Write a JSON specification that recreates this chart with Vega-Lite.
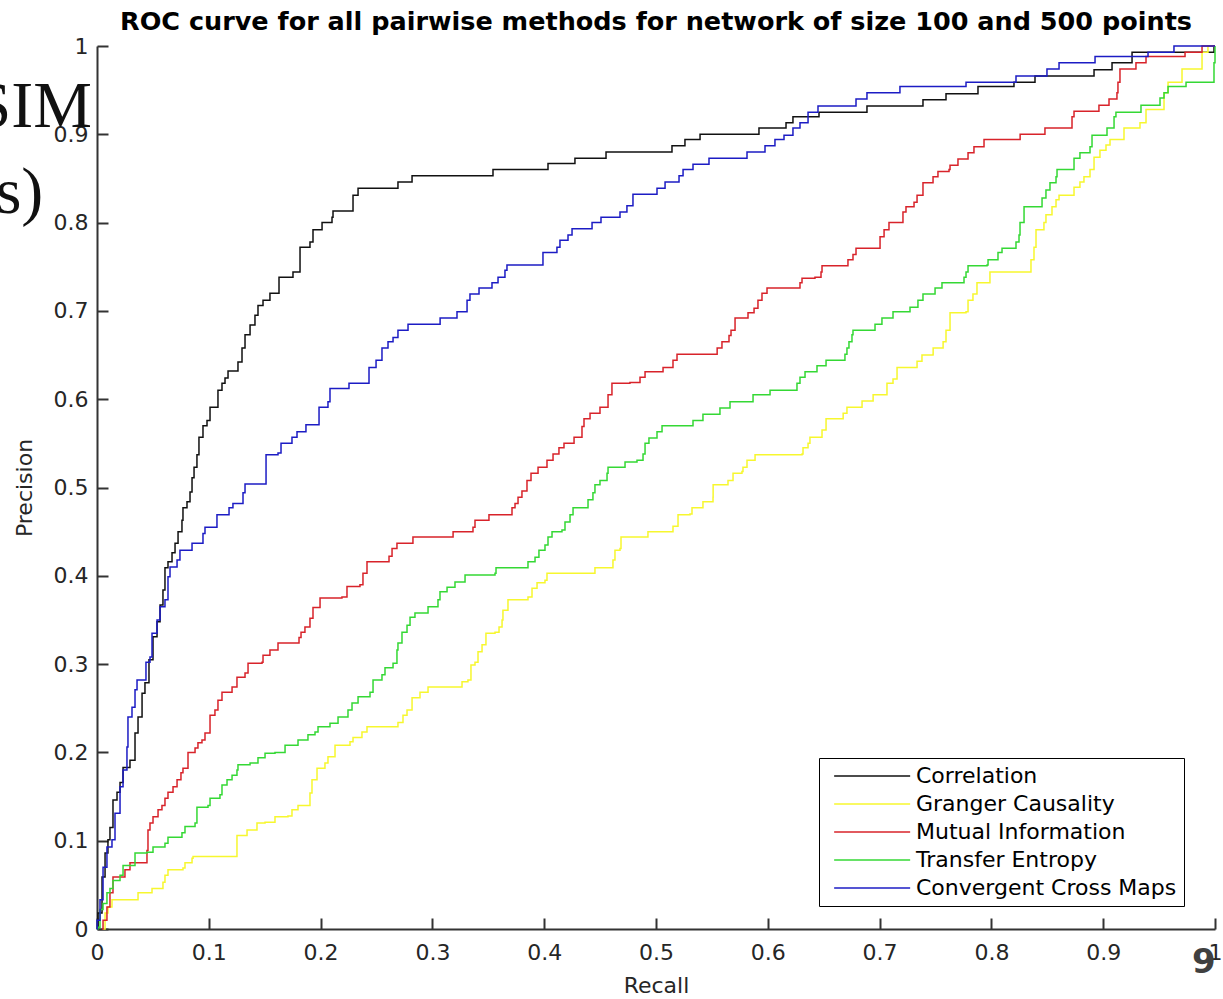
{
"$schema": "https://vega.github.io/schema/vega-lite/v6.json",
"autosize": "none",
"width": 1118,
"height": 883,
"padding": {"left": 97, "top": 46, "right": 8, "bottom": 70},
"background": "white",
"config": {"view": {"stroke": null}, "font": "DejaVu Sans"},
"title": {"text": "ROC curve for all pairwise methods for network of size 100 and 500 points", "font": "DejaVu Sans", "fontSize": 25.5, "fontWeight": "bold", "color": "#000000", "anchor": "middle", "frame": "group", "offset": 0},
"datasets": {
"roc": [
{"method":"Correlation","recall":0,"precision":0},
{"method":"Correlation","recall":0.0009,"precision":0.018},
{"method":"Correlation","recall":0.0045,"precision":0.059},
{"method":"Correlation","recall":0.0072,"precision":0.086},
{"method":"Correlation","recall":0.0098,"precision":0.101},
{"method":"Correlation","recall":0.0116,"precision":0.115},
{"method":"Correlation","recall":0.0143,"precision":0.146},
{"method":"Correlation","recall":0.0179,"precision":0.155},
{"method":"Correlation","recall":0.0206,"precision":0.166},
{"method":"Correlation","recall":0.0233,"precision":0.183},
{"method":"Correlation","recall":0.0295,"precision":0.191},
{"method":"Correlation","recall":0.034,"precision":0.222},
{"method":"Correlation","recall":0.0367,"precision":0.240},
{"method":"Correlation","recall":0.0403,"precision":0.267},
{"method":"Correlation","recall":0.0429,"precision":0.279},
{"method":"Correlation","recall":0.0465,"precision":0.305},
{"method":"Correlation","recall":0.0501,"precision":0.331},
{"method":"Correlation","recall":0.0537,"precision":0.348},
{"method":"Correlation","recall":0.0564,"precision":0.367},
{"method":"Correlation","recall":0.059,"precision":0.384},
{"method":"Correlation","recall":0.0608,"precision":0.409},
{"method":"Correlation","recall":0.0635,"precision":0.416},
{"method":"Correlation","recall":0.0671,"precision":0.426},
{"method":"Correlation","recall":0.0698,"precision":0.437},
{"method":"Correlation","recall":0.0725,"precision":0.450},
{"method":"Correlation","recall":0.076,"precision":0.463},
{"method":"Correlation","recall":0.0769,"precision":0.477},
{"method":"Correlation","recall":0.0805,"precision":0.484},
{"method":"Correlation","recall":0.0832,"precision":0.495},
{"method":"Correlation","recall":0.085,"precision":0.511},
{"method":"Correlation","recall":0.0868,"precision":0.523},
{"method":"Correlation","recall":0.0894,"precision":0.537},
{"method":"Correlation","recall":0.0912,"precision":0.557},
{"method":"Correlation","recall":0.0948,"precision":0.570},
{"method":"Correlation","recall":0.0984,"precision":0.576},
{"method":"Correlation","recall":0.1011,"precision":0.591},
{"method":"Correlation","recall":0.1055,"precision":0.591},
{"method":"Correlation","recall":0.1082,"precision":0.610},
{"method":"Correlation","recall":0.1118,"precision":0.618},
{"method":"Correlation","recall":0.1145,"precision":0.624},
{"method":"Correlation","recall":0.1172,"precision":0.632},
{"method":"Correlation","recall":0.1261,"precision":0.642},
{"method":"Correlation","recall":0.1297,"precision":0.658},
{"method":"Correlation","recall":0.1324,"precision":0.673},
{"method":"Correlation","recall":0.1369,"precision":0.684},
{"method":"Correlation","recall":0.1413,"precision":0.695},
{"method":"Correlation","recall":0.144,"precision":0.706},
{"method":"Correlation","recall":0.1485,"precision":0.712},
{"method":"Correlation","recall":0.1547,"precision":0.720},
{"method":"Correlation","recall":0.1628,"precision":0.738},
{"method":"Correlation","recall":0.1753,"precision":0.744},
{"method":"Correlation","recall":0.1816,"precision":0.772},
{"method":"Correlation","recall":0.1905,"precision":0.778},
{"method":"Correlation","recall":0.1932,"precision":0.792},
{"method":"Correlation","recall":0.2013,"precision":0.800},
{"method":"Correlation","recall":0.2102,"precision":0.806},
{"method":"Correlation","recall":0.2111,"precision":0.813},
{"method":"Correlation","recall":0.2281,"precision":0.813},
{"method":"Correlation","recall":0.229,"precision":0.831},
{"method":"Correlation","recall":0.2335,"precision":0.839},
{"method":"Correlation","recall":0.2692,"precision":0.846},
{"method":"Correlation","recall":0.2818,"precision":0.853},
{"method":"Correlation","recall":0.3542,"precision":0.860},
{"method":"Correlation","recall":0.4034,"precision":0.867},
{"method":"Correlation","recall":0.4275,"precision":0.873},
{"method":"Correlation","recall":0.4553,"precision":0.880},
{"method":"Correlation","recall":0.5143,"precision":0.887},
{"method":"Correlation","recall":0.5259,"precision":0.894},
{"method":"Correlation","recall":0.5394,"precision":0.900},
{"method":"Correlation","recall":0.5921,"precision":0.907},
{"method":"Correlation","recall":0.6163,"precision":0.913},
{"method":"Correlation","recall":0.6225,"precision":0.920},
{"method":"Correlation","recall":0.6458,"precision":0.925},
{"method":"Correlation","recall":0.6887,"precision":0.932},
{"method":"Correlation","recall":0.7388,"precision":0.939},
{"method":"Correlation","recall":0.7594,"precision":0.946},
{"method":"Correlation","recall":0.788,"precision":0.954},
{"method":"Correlation","recall":0.8202,"precision":0.959},
{"method":"Correlation","recall":0.839,"precision":0.966},
{"method":"Correlation","recall":0.8918,"precision":0.973},
{"method":"Correlation","recall":0.9079,"precision":0.981},
{"method":"Correlation","recall":0.9258,"precision":0.993},
{"method":"Correlation","recall":0.9991,"precision":1.0},
{"method":"Correlation","recall":1.0,"precision":1.0},
{"method":"Granger Causality","recall":0.0054,"precision":0},
{"method":"Granger Causality","recall":0.0072,"precision":0.018},
{"method":"Granger Causality","recall":0.0098,"precision":0.025},
{"method":"Granger Causality","recall":0.0134,"precision":0.033},
{"method":"Granger Causality","recall":0.0358,"precision":0.033},
{"method":"Granger Causality","recall":0.0367,"precision":0.041},
{"method":"Granger Causality","recall":0.0492,"precision":0.046},
{"method":"Granger Causality","recall":0.059,"precision":0.053},
{"method":"Granger Causality","recall":0.0608,"precision":0.061},
{"method":"Granger Causality","recall":0.0635,"precision":0.067},
{"method":"Granger Causality","recall":0.0769,"precision":0.069},
{"method":"Granger Causality","recall":0.0787,"precision":0.075},
{"method":"Granger Causality","recall":0.085,"precision":0.080},
{"method":"Granger Causality","recall":0.0859,"precision":0.082},
{"method":"Granger Causality","recall":0.1234,"precision":0.082},
{"method":"Granger Causality","recall":0.1252,"precision":0.106},
{"method":"Granger Causality","recall":0.1297,"precision":0.106},
{"method":"Granger Causality","recall":0.1342,"precision":0.112},
{"method":"Granger Causality","recall":0.1431,"precision":0.120},
{"method":"Granger Causality","recall":0.1503,"precision":0.121},
{"method":"Granger Causality","recall":0.1592,"precision":0.127},
{"method":"Granger Causality","recall":0.1708,"precision":0.128},
{"method":"Granger Causality","recall":0.1744,"precision":0.135},
{"method":"Granger Causality","recall":0.1798,"precision":0.140},
{"method":"Granger Causality","recall":0.1887,"precision":0.140},
{"method":"Granger Causality","recall":0.1905,"precision":0.154},
{"method":"Granger Causality","recall":0.1923,"precision":0.169},
{"method":"Granger Causality","recall":0.1968,"precision":0.182},
{"method":"Granger Causality","recall":0.2039,"precision":0.188},
{"method":"Granger Causality","recall":0.2066,"precision":0.195},
{"method":"Granger Causality","recall":0.2129,"precision":0.208},
{"method":"Granger Causality","recall":0.2263,"precision":0.212},
{"method":"Granger Causality","recall":0.229,"precision":0.217},
{"method":"Granger Causality","recall":0.237,"precision":0.223},
{"method":"Granger Causality","recall":0.2415,"precision":0.229},
{"method":"Granger Causality","recall":0.2683,"precision":0.229},
{"method":"Granger Causality","recall":0.2692,"precision":0.234},
{"method":"Granger Causality","recall":0.2737,"precision":0.242},
{"method":"Granger Causality","recall":0.2773,"precision":0.248},
{"method":"Granger Causality","recall":0.2818,"precision":0.262},
{"method":"Granger Causality","recall":0.2889,"precision":0.268},
{"method":"Granger Causality","recall":0.2961,"precision":0.274},
{"method":"Granger Causality","recall":0.3247,"precision":0.274},
{"method":"Granger Causality","recall":0.3265,"precision":0.280},
{"method":"Granger Causality","recall":0.3318,"precision":0.282},
{"method":"Granger Causality","recall":0.3345,"precision":0.299},
{"method":"Granger Causality","recall":0.3381,"precision":0.302},
{"method":"Granger Causality","recall":0.3408,"precision":0.314},
{"method":"Granger Causality","recall":0.3444,"precision":0.322},
{"method":"Granger Causality","recall":0.3479,"precision":0.335},
{"method":"Granger Causality","recall":0.356,"precision":0.336},
{"method":"Granger Causality","recall":0.3596,"precision":0.342},
{"method":"Granger Causality","recall":0.3623,"precision":0.350},
{"method":"Granger Causality","recall":0.3631,"precision":0.361},
{"method":"Granger Causality","recall":0.3676,"precision":0.373},
{"method":"Granger Causality","recall":0.3855,"precision":0.376},
{"method":"Granger Causality","recall":0.3891,"precision":0.386},
{"method":"Granger Causality","recall":0.3936,"precision":0.392},
{"method":"Granger Causality","recall":0.4007,"precision":0.395},
{"method":"Granger Causality","recall":0.4025,"precision":0.403},
{"method":"Granger Causality","recall":0.4436,"precision":0.403},
{"method":"Granger Causality","recall":0.4454,"precision":0.409},
{"method":"Granger Causality","recall":0.4606,"precision":0.409},
{"method":"Granger Causality","recall":0.4615,"precision":0.418},
{"method":"Granger Causality","recall":0.4633,"precision":0.429},
{"method":"Granger Causality","recall":0.4678,"precision":0.431},
{"method":"Granger Causality","recall":0.4687,"precision":0.444},
{"method":"Granger Causality","recall":0.492,"precision":0.444},
{"method":"Granger Causality","recall":0.4928,"precision":0.450},
{"method":"Granger Causality","recall":0.5143,"precision":0.450},
{"method":"Granger Causality","recall":0.5152,"precision":0.456},
{"method":"Granger Causality","recall":0.5197,"precision":0.469},
{"method":"Granger Causality","recall":0.5304,"precision":0.470},
{"method":"Granger Causality","recall":0.5322,"precision":0.477},
{"method":"Granger Causality","recall":0.5411,"precision":0.477},
{"method":"Granger Causality","recall":0.542,"precision":0.484},
{"method":"Granger Causality","recall":0.551,"precision":0.489},
{"method":"Granger Causality","recall":0.5511,"precision":0.503},
{"method":"Granger Causality","recall":0.5635,"precision":0.503},
{"method":"Granger Causality","recall":0.5644,"precision":0.508},
{"method":"Granger Causality","recall":0.5689,"precision":0.516},
{"method":"Granger Causality","recall":0.5769,"precision":0.518},
{"method":"Granger Causality","recall":0.5778,"precision":0.523},
{"method":"Granger Causality","recall":0.5814,"precision":0.531},
{"method":"Granger Causality","recall":0.5886,"precision":0.537},
{"method":"Granger Causality","recall":0.6306,"precision":0.538},
{"method":"Granger Causality","recall":0.6315,"precision":0.545},
{"method":"Granger Causality","recall":0.636,"precision":0.550},
{"method":"Granger Causality","recall":0.6377,"precision":0.557},
{"method":"Granger Causality","recall":0.6467,"precision":0.557},
{"method":"Granger Causality","recall":0.6485,"precision":0.565},
{"method":"Granger Causality","recall":0.6521,"precision":0.578},
{"method":"Granger Causality","recall":0.6673,"precision":0.578},
{"method":"Granger Causality","recall":0.6674,"precision":0.584},
{"method":"Granger Causality","recall":0.6708,"precision":0.591},
{"method":"Granger Causality","recall":0.6825,"precision":0.591},
{"method":"Granger Causality","recall":0.6843,"precision":0.598},
{"method":"Granger Causality","recall":0.6941,"precision":0.598},
{"method":"Granger Causality","recall":0.6942,"precision":0.605},
{"method":"Granger Causality","recall":0.7057,"precision":0.605},
{"method":"Granger Causality","recall":0.7066,"precision":0.618},
{"method":"Granger Causality","recall":0.712,"precision":0.623},
{"method":"Granger Causality","recall":0.7156,"precision":0.636},
{"method":"Granger Causality","recall":0.7326,"precision":0.636},
{"method":"Granger Causality","recall":0.7335,"precision":0.643},
{"method":"Granger Causality","recall":0.7379,"precision":0.650},
{"method":"Granger Causality","recall":0.7478,"precision":0.651},
{"method":"Granger Causality","recall":0.7479,"precision":0.658},
{"method":"Granger Causality","recall":0.7567,"precision":0.658},
{"method":"Granger Causality","recall":0.7568,"precision":0.665},
{"method":"Granger Causality","recall":0.7594,"precision":0.678},
{"method":"Granger Causality","recall":0.763,"precision":0.698},
{"method":"Granger Causality","recall":0.7773,"precision":0.699},
{"method":"Granger Causality","recall":0.7791,"precision":0.712},
{"method":"Granger Causality","recall":0.7835,"precision":0.719},
{"method":"Granger Causality","recall":0.7871,"precision":0.732},
{"method":"Granger Causality","recall":0.797,"precision":0.732},
{"method":"Granger Causality","recall":0.7987,"precision":0.744},
{"method":"Granger Causality","recall":0.8327,"precision":0.744},
{"method":"Granger Causality","recall":0.8354,"precision":0.758},
{"method":"Granger Causality","recall":0.8381,"precision":0.772},
{"method":"Granger Causality","recall":0.8399,"precision":0.792},
{"method":"Granger Causality","recall":0.847,"precision":0.800},
{"method":"Granger Causality","recall":0.8488,"precision":0.809},
{"method":"Granger Causality","recall":0.8542,"precision":0.818},
{"method":"Granger Causality","recall":0.8578,"precision":0.826},
{"method":"Granger Causality","recall":0.8605,"precision":0.831},
{"method":"Granger Causality","recall":0.8721,"precision":0.831},
{"method":"Granger Causality","recall":0.8739,"precision":0.840},
{"method":"Granger Causality","recall":0.8792,"precision":0.846},
{"method":"Granger Causality","recall":0.8828,"precision":0.852},
{"method":"Granger Causality","recall":0.8882,"precision":0.860},
{"method":"Granger Causality","recall":0.8918,"precision":0.874},
{"method":"Granger Causality","recall":0.8971,"precision":0.882},
{"method":"Granger Causality","recall":0.9025,"precision":0.888},
{"method":"Granger Causality","recall":0.9061,"precision":0.894},
{"method":"Granger Causality","recall":0.915,"precision":0.894},
{"method":"Granger Causality","recall":0.9186,"precision":0.907},
{"method":"Granger Causality","recall":0.9311,"precision":0.907},
{"method":"Granger Causality","recall":0.9329,"precision":0.913},
{"method":"Granger Causality","recall":0.9383,"precision":0.928},
{"method":"Granger Causality","recall":0.9508,"precision":0.928},
{"method":"Granger Causality","recall":0.9544,"precision":0.947},
{"method":"Granger Causality","recall":0.958,"precision":0.959},
{"method":"Granger Causality","recall":0.9687,"precision":0.959},
{"method":"Granger Causality","recall":0.9705,"precision":0.974},
{"method":"Granger Causality","recall":0.9848,"precision":0.974},
{"method":"Granger Causality","recall":0.9884,"precision":0.993},
{"method":"Granger Causality","recall":0.9937,"precision":1.0},
{"method":"Granger Causality","recall":1.0,"precision":1.0},
{"method":"Mutual Information","recall":0.0045,"precision":0},
{"method":"Mutual Information","recall":0.0054,"precision":0.010},
{"method":"Mutual Information","recall":0.0089,"precision":0.025},
{"method":"Mutual Information","recall":0.0116,"precision":0.041},
{"method":"Mutual Information","recall":0.0143,"precision":0.059},
{"method":"Mutual Information","recall":0.0233,"precision":0.059},
{"method":"Mutual Information","recall":0.025,"precision":0.067},
{"method":"Mutual Information","recall":0.0295,"precision":0.075},
{"method":"Mutual Information","recall":0.0429,"precision":0.075},
{"method":"Mutual Information","recall":0.0447,"precision":0.089},
{"method":"Mutual Information","recall":0.0456,"precision":0.112},
{"method":"Mutual Information","recall":0.0474,"precision":0.120},
{"method":"Mutual Information","recall":0.0501,"precision":0.127},
{"method":"Mutual Information","recall":0.0546,"precision":0.135},
{"method":"Mutual Information","recall":0.0581,"precision":0.140},
{"method":"Mutual Information","recall":0.0608,"precision":0.148},
{"method":"Mutual Information","recall":0.0635,"precision":0.155},
{"method":"Mutual Information","recall":0.068,"precision":0.161},
{"method":"Mutual Information","recall":0.0716,"precision":0.169},
{"method":"Mutual Information","recall":0.0751,"precision":0.177},
{"method":"Mutual Information","recall":0.0769,"precision":0.182},
{"method":"Mutual Information","recall":0.0814,"precision":0.200},
{"method":"Mutual Information","recall":0.0877,"precision":0.205},
{"method":"Mutual Information","recall":0.0903,"precision":0.211},
{"method":"Mutual Information","recall":0.0939,"precision":0.214},
{"method":"Mutual Information","recall":0.0966,"precision":0.222},
{"method":"Mutual Information","recall":0.1011,"precision":0.242},
{"method":"Mutual Information","recall":0.1055,"precision":0.248},
{"method":"Mutual Information","recall":0.1082,"precision":0.259},
{"method":"Mutual Information","recall":0.1118,"precision":0.268},
{"method":"Mutual Information","recall":0.1208,"precision":0.274},
{"method":"Mutual Information","recall":0.1252,"precision":0.285},
{"method":"Mutual Information","recall":0.1324,"precision":0.290},
{"method":"Mutual Information","recall":0.1351,"precision":0.301},
{"method":"Mutual Information","recall":0.1476,"precision":0.302},
{"method":"Mutual Information","recall":0.1485,"precision":0.310},
{"method":"Mutual Information","recall":0.1547,"precision":0.316},
{"method":"Mutual Information","recall":0.1619,"precision":0.324},
{"method":"Mutual Information","recall":0.1807,"precision":0.330},
{"method":"Mutual Information","recall":0.1825,"precision":0.336},
{"method":"Mutual Information","recall":0.186,"precision":0.342},
{"method":"Mutual Information","recall":0.1905,"precision":0.352},
{"method":"Mutual Information","recall":0.1932,"precision":0.364},
{"method":"Mutual Information","recall":0.1995,"precision":0.375},
{"method":"Mutual Information","recall":0.2191,"precision":0.376},
{"method":"Mutual Information","recall":0.2236,"precision":0.388},
{"method":"Mutual Information","recall":0.2352,"precision":0.390},
{"method":"Mutual Information","recall":0.2379,"precision":0.403},
{"method":"Mutual Information","recall":0.2415,"precision":0.416},
{"method":"Mutual Information","recall":0.2603,"precision":0.416},
{"method":"Mutual Information","recall":0.2612,"precision":0.422},
{"method":"Mutual Information","recall":0.2639,"precision":0.431},
{"method":"Mutual Information","recall":0.2683,"precision":0.437},
{"method":"Mutual Information","recall":0.2826,"precision":0.444},
{"method":"Mutual Information","recall":0.3184,"precision":0.444},
{"method":"Mutual Information","recall":0.3185,"precision":0.450},
{"method":"Mutual Information","recall":0.3363,"precision":0.455},
{"method":"Mutual Information","recall":0.3381,"precision":0.463},
{"method":"Mutual Information","recall":0.3506,"precision":0.469},
{"method":"Mutual Information","recall":0.3694,"precision":0.469},
{"method":"Mutual Information","recall":0.3712,"precision":0.477},
{"method":"Mutual Information","recall":0.3739,"precision":0.482},
{"method":"Mutual Information","recall":0.3766,"precision":0.489},
{"method":"Mutual Information","recall":0.3801,"precision":0.496},
{"method":"Mutual Information","recall":0.3846,"precision":0.508},
{"method":"Mutual Information","recall":0.3882,"precision":0.516},
{"method":"Mutual Information","recall":0.3945,"precision":0.523},
{"method":"Mutual Information","recall":0.4025,"precision":0.531},
{"method":"Mutual Information","recall":0.4079,"precision":0.538},
{"method":"Mutual Information","recall":0.4132,"precision":0.545},
{"method":"Mutual Information","recall":0.4177,"precision":0.550},
{"method":"Mutual Information","recall":0.4267,"precision":0.557},
{"method":"Mutual Information","recall":0.4338,"precision":0.569},
{"method":"Mutual Information","recall":0.4356,"precision":0.578},
{"method":"Mutual Information","recall":0.441,"precision":0.584},
{"method":"Mutual Information","recall":0.4499,"precision":0.591},
{"method":"Mutual Information","recall":0.4571,"precision":0.605},
{"method":"Mutual Information","recall":0.4606,"precision":0.618},
{"method":"Mutual Information","recall":0.4767,"precision":0.619},
{"method":"Mutual Information","recall":0.4857,"precision":0.625},
{"method":"Mutual Information","recall":0.4902,"precision":0.631},
{"method":"Mutual Information","recall":0.5063,"precision":0.636},
{"method":"Mutual Information","recall":0.5152,"precision":0.644},
{"method":"Mutual Information","recall":0.5188,"precision":0.651},
{"method":"Mutual Information","recall":0.5546,"precision":0.651},
{"method":"Mutual Information","recall":0.5547,"precision":0.658},
{"method":"Mutual Information","recall":0.559,"precision":0.665},
{"method":"Mutual Information","recall":0.5644,"precision":0.665},
{"method":"Mutual Information","recall":0.5653,"precision":0.672},
{"method":"Mutual Information","recall":0.5671,"precision":0.678},
{"method":"Mutual Information","recall":0.5707,"precision":0.692},
{"method":"Mutual Information","recall":0.5814,"precision":0.692},
{"method":"Mutual Information","recall":0.5823,"precision":0.698},
{"method":"Mutual Information","recall":0.5877,"precision":0.703},
{"method":"Mutual Information","recall":0.5912,"precision":0.712},
{"method":"Mutual Information","recall":0.5948,"precision":0.720},
{"method":"Mutual Information","recall":0.5993,"precision":0.726},
{"method":"Mutual Information","recall":0.6261,"precision":0.726},
{"method":"Mutual Information","recall":0.6288,"precision":0.732},
{"method":"Mutual Information","recall":0.6306,"precision":0.737},
{"method":"Mutual Information","recall":0.6422,"precision":0.738},
{"method":"Mutual Information","recall":0.6476,"precision":0.744},
{"method":"Mutual Information","recall":0.6485,"precision":0.751},
{"method":"Mutual Information","recall":0.6699,"precision":0.751},
{"method":"Mutual Information","recall":0.6717,"precision":0.758},
{"method":"Mutual Information","recall":0.6762,"precision":0.764},
{"method":"Mutual Information","recall":0.6789,"precision":0.771},
{"method":"Mutual Information","recall":0.6995,"precision":0.771},
{"method":"Mutual Information","recall":0.7004,"precision":0.784},
{"method":"Mutual Information","recall":0.704,"precision":0.792},
{"method":"Mutual Information","recall":0.7084,"precision":0.800},
{"method":"Mutual Information","recall":0.7191,"precision":0.800},
{"method":"Mutual Information","recall":0.7209,"precision":0.812},
{"method":"Mutual Information","recall":0.7236,"precision":0.818},
{"method":"Mutual Information","recall":0.7308,"precision":0.823},
{"method":"Mutual Information","recall":0.7335,"precision":0.831},
{"method":"Mutual Information","recall":0.7388,"precision":0.845},
{"method":"Mutual Information","recall":0.746,"precision":0.845},
{"method":"Mutual Information","recall":0.7478,"precision":0.852},
{"method":"Mutual Information","recall":0.7522,"precision":0.858},
{"method":"Mutual Information","recall":0.7621,"precision":0.860},
{"method":"Mutual Information","recall":0.763,"precision":0.865},
{"method":"Mutual Information","recall":0.7701,"precision":0.872},
{"method":"Mutual Information","recall":0.7791,"precision":0.879},
{"method":"Mutual Information","recall":0.7844,"precision":0.886},
{"method":"Mutual Information","recall":0.7934,"precision":0.894},
{"method":"Mutual Information","recall":0.8256,"precision":0.894},
{"method":"Mutual Information","recall":0.8257,"precision":0.900},
{"method":"Mutual Information","recall":0.847,"precision":0.900},
{"method":"Mutual Information","recall":0.8479,"precision":0.907},
{"method":"Mutual Information","recall":0.8703,"precision":0.907},
{"method":"Mutual Information","recall":0.8721,"precision":0.920},
{"method":"Mutual Information","recall":0.8739,"precision":0.926},
{"method":"Mutual Information","recall":0.8953,"precision":0.926},
{"method":"Mutual Information","recall":0.8962,"precision":0.933},
{"method":"Mutual Information","recall":0.9043,"precision":0.933},
{"method":"Mutual Information","recall":0.9052,"precision":0.940},
{"method":"Mutual Information","recall":0.9114,"precision":0.940},
{"method":"Mutual Information","recall":0.9123,"precision":0.947},
{"method":"Mutual Information","recall":0.9132,"precision":0.959},
{"method":"Mutual Information","recall":0.915,"precision":0.974},
{"method":"Mutual Information","recall":0.9275,"precision":0.974},
{"method":"Mutual Information","recall":0.9293,"precision":0.981},
{"method":"Mutual Information","recall":0.9383,"precision":0.988},
{"method":"Mutual Information","recall":0.9723,"precision":0.988},
{"method":"Mutual Information","recall":0.9732,"precision":0.993},
{"method":"Mutual Information","recall":0.9866,"precision":0.993},
{"method":"Mutual Information","recall":0.9884,"precision":1.0},
{"method":"Mutual Information","recall":1.0,"precision":1.0},
{"method":"Transfer Entropy","recall":0,"precision":0},
{"method":"Transfer Entropy","recall":0.0009,"precision":0.002},
{"method":"Transfer Entropy","recall":0.0027,"precision":0.022},
{"method":"Transfer Entropy","recall":0.0054,"precision":0.029},
{"method":"Transfer Entropy","recall":0.0089,"precision":0.041},
{"method":"Transfer Entropy","recall":0.0116,"precision":0.046},
{"method":"Transfer Entropy","recall":0.0143,"precision":0.055},
{"method":"Transfer Entropy","recall":0.0206,"precision":0.061},
{"method":"Transfer Entropy","recall":0.0233,"precision":0.072},
{"method":"Transfer Entropy","recall":0.0313,"precision":0.072},
{"method":"Transfer Entropy","recall":0.034,"precision":0.086},
{"method":"Transfer Entropy","recall":0.0447,"precision":0.087},
{"method":"Transfer Entropy","recall":0.0501,"precision":0.093},
{"method":"Transfer Entropy","recall":0.0608,"precision":0.097},
{"method":"Transfer Entropy","recall":0.0635,"precision":0.104},
{"method":"Transfer Entropy","recall":0.076,"precision":0.109},
{"method":"Transfer Entropy","recall":0.0787,"precision":0.116},
{"method":"Transfer Entropy","recall":0.0877,"precision":0.120},
{"method":"Transfer Entropy","recall":0.0894,"precision":0.138},
{"method":"Transfer Entropy","recall":0.0993,"precision":0.140},
{"method":"Transfer Entropy","recall":0.1011,"precision":0.148},
{"method":"Transfer Entropy","recall":0.11,"precision":0.152},
{"method":"Transfer Entropy","recall":0.1118,"precision":0.163},
{"method":"Transfer Entropy","recall":0.1163,"precision":0.169},
{"method":"Transfer Entropy","recall":0.1208,"precision":0.174},
{"method":"Transfer Entropy","recall":0.1252,"precision":0.180},
{"method":"Transfer Entropy","recall":0.1261,"precision":0.186},
{"method":"Transfer Entropy","recall":0.1369,"precision":0.188},
{"method":"Transfer Entropy","recall":0.144,"precision":0.194},
{"method":"Transfer Entropy","recall":0.1503,"precision":0.199},
{"method":"Transfer Entropy","recall":0.1592,"precision":0.200},
{"method":"Transfer Entropy","recall":0.1682,"precision":0.208},
{"method":"Transfer Entropy","recall":0.1798,"precision":0.214},
{"method":"Transfer Entropy","recall":0.1887,"precision":0.220},
{"method":"Transfer Entropy","recall":0.195,"precision":0.223},
{"method":"Transfer Entropy","recall":0.1977,"precision":0.229},
{"method":"Transfer Entropy","recall":0.2084,"precision":0.233},
{"method":"Transfer Entropy","recall":0.2156,"precision":0.240},
{"method":"Transfer Entropy","recall":0.2245,"precision":0.248},
{"method":"Transfer Entropy","recall":0.2281,"precision":0.256},
{"method":"Transfer Entropy","recall":0.2335,"precision":0.263},
{"method":"Transfer Entropy","recall":0.2442,"precision":0.268},
{"method":"Transfer Entropy","recall":0.2469,"precision":0.282},
{"method":"Transfer Entropy","recall":0.2549,"precision":0.288},
{"method":"Transfer Entropy","recall":0.2576,"precision":0.296},
{"method":"Transfer Entropy","recall":0.2648,"precision":0.301},
{"method":"Transfer Entropy","recall":0.2683,"precision":0.316},
{"method":"Transfer Entropy","recall":0.2692,"precision":0.324},
{"method":"Transfer Entropy","recall":0.2728,"precision":0.336},
{"method":"Transfer Entropy","recall":0.2773,"precision":0.344},
{"method":"Transfer Entropy","recall":0.28,"precision":0.353},
{"method":"Transfer Entropy","recall":0.2844,"precision":0.358},
{"method":"Transfer Entropy","recall":0.2916,"precision":0.358},
{"method":"Transfer Entropy","recall":0.2961,"precision":0.365},
{"method":"Transfer Entropy","recall":0.305,"precision":0.373},
{"method":"Transfer Entropy","recall":0.3068,"precision":0.382},
{"method":"Transfer Entropy","recall":0.3131,"precision":0.387},
{"method":"Transfer Entropy","recall":0.3202,"precision":0.393},
{"method":"Transfer Entropy","recall":0.3292,"precision":0.401},
{"method":"Transfer Entropy","recall":0.356,"precision":0.403},
{"method":"Transfer Entropy","recall":0.3569,"precision":0.409},
{"method":"Transfer Entropy","recall":0.3846,"precision":0.409},
{"method":"Transfer Entropy","recall":0.3855,"precision":0.416},
{"method":"Transfer Entropy","recall":0.3918,"precision":0.421},
{"method":"Transfer Entropy","recall":0.3953,"precision":0.429},
{"method":"Transfer Entropy","recall":0.4007,"precision":0.435},
{"method":"Transfer Entropy","recall":0.4034,"precision":0.444},
{"method":"Transfer Entropy","recall":0.407,"precision":0.450},
{"method":"Transfer Entropy","recall":0.4159,"precision":0.452},
{"method":"Transfer Entropy","recall":0.4186,"precision":0.461},
{"method":"Transfer Entropy","recall":0.4231,"precision":0.469},
{"method":"Transfer Entropy","recall":0.4258,"precision":0.477},
{"method":"Transfer Entropy","recall":0.4383,"precision":0.477},
{"method":"Transfer Entropy","recall":0.4392,"precision":0.486},
{"method":"Transfer Entropy","recall":0.4436,"precision":0.494},
{"method":"Transfer Entropy","recall":0.4454,"precision":0.503},
{"method":"Transfer Entropy","recall":0.4499,"precision":0.508},
{"method":"Transfer Entropy","recall":0.4562,"precision":0.516},
{"method":"Transfer Entropy","recall":0.4571,"precision":0.523},
{"method":"Transfer Entropy","recall":0.4705,"precision":0.523},
{"method":"Transfer Entropy","recall":0.4723,"precision":0.529},
{"method":"Transfer Entropy","recall":0.483,"precision":0.531},
{"method":"Transfer Entropy","recall":0.4884,"precision":0.538},
{"method":"Transfer Entropy","recall":0.4902,"precision":0.550},
{"method":"Transfer Entropy","recall":0.4937,"precision":0.556},
{"method":"Transfer Entropy","recall":0.5009,"precision":0.563},
{"method":"Transfer Entropy","recall":0.5054,"precision":0.570},
{"method":"Transfer Entropy","recall":0.5322,"precision":0.570},
{"method":"Transfer Entropy","recall":0.5331,"precision":0.576},
{"method":"Transfer Entropy","recall":0.542,"precision":0.583},
{"method":"Transfer Entropy","recall":0.5572,"precision":0.590},
{"method":"Transfer Entropy","recall":0.5662,"precision":0.597},
{"method":"Transfer Entropy","recall":0.5859,"precision":0.597},
{"method":"Transfer Entropy","recall":0.5868,"precision":0.605},
{"method":"Transfer Entropy","recall":0.602,"precision":0.610},
{"method":"Transfer Entropy","recall":0.6243,"precision":0.610},
{"method":"Transfer Entropy","recall":0.6261,"precision":0.618},
{"method":"Transfer Entropy","recall":0.6288,"precision":0.625},
{"method":"Transfer Entropy","recall":0.6333,"precision":0.631},
{"method":"Transfer Entropy","recall":0.644,"precision":0.638},
{"method":"Transfer Entropy","recall":0.6521,"precision":0.644},
{"method":"Transfer Entropy","recall":0.6673,"precision":0.644},
{"method":"Transfer Entropy","recall":0.669,"precision":0.651},
{"method":"Transfer Entropy","recall":0.6708,"precision":0.658},
{"method":"Transfer Entropy","recall":0.6726,"precision":0.665},
{"method":"Transfer Entropy","recall":0.6753,"precision":0.673},
{"method":"Transfer Entropy","recall":0.6762,"precision":0.678},
{"method":"Transfer Entropy","recall":0.6941,"precision":0.678},
{"method":"Transfer Entropy","recall":0.6959,"precision":0.685},
{"method":"Transfer Entropy","recall":0.7021,"precision":0.692},
{"method":"Transfer Entropy","recall":0.712,"precision":0.699},
{"method":"Transfer Entropy","recall":0.7272,"precision":0.704},
{"method":"Transfer Entropy","recall":0.7343,"precision":0.712},
{"method":"Transfer Entropy","recall":0.7388,"precision":0.719},
{"method":"Transfer Entropy","recall":0.7496,"precision":0.726},
{"method":"Transfer Entropy","recall":0.7558,"precision":0.732},
{"method":"Transfer Entropy","recall":0.7737,"precision":0.732},
{"method":"Transfer Entropy","recall":0.7755,"precision":0.738},
{"method":"Transfer Entropy","recall":0.7773,"precision":0.744},
{"method":"Transfer Entropy","recall":0.7791,"precision":0.751},
{"method":"Transfer Entropy","recall":0.7961,"precision":0.752},
{"method":"Transfer Entropy","recall":0.797,"precision":0.758},
{"method":"Transfer Entropy","recall":0.8059,"precision":0.766},
{"method":"Transfer Entropy","recall":0.8095,"precision":0.771},
{"method":"Transfer Entropy","recall":0.8184,"precision":0.771},
{"method":"Transfer Entropy","recall":0.822,"precision":0.778},
{"method":"Transfer Entropy","recall":0.8247,"precision":0.786},
{"method":"Transfer Entropy","recall":0.8256,"precision":0.800},
{"method":"Transfer Entropy","recall":0.8292,"precision":0.818},
{"method":"Transfer Entropy","recall":0.8435,"precision":0.818},
{"method":"Transfer Entropy","recall":0.8453,"precision":0.828},
{"method":"Transfer Entropy","recall":0.8488,"precision":0.837},
{"method":"Transfer Entropy","recall":0.8524,"precision":0.845},
{"method":"Transfer Entropy","recall":0.8578,"precision":0.852},
{"method":"Transfer Entropy","recall":0.8587,"precision":0.860},
{"method":"Transfer Entropy","recall":0.8721,"precision":0.860},
{"method":"Transfer Entropy","recall":0.8739,"precision":0.873},
{"method":"Transfer Entropy","recall":0.8792,"precision":0.879},
{"method":"Transfer Entropy","recall":0.8882,"precision":0.886},
{"method":"Transfer Entropy","recall":0.89,"precision":0.899},
{"method":"Transfer Entropy","recall":0.9025,"precision":0.899},
{"method":"Transfer Entropy","recall":0.9034,"precision":0.907},
{"method":"Transfer Entropy","recall":0.9097,"precision":0.920},
{"method":"Transfer Entropy","recall":0.9114,"precision":0.925},
{"method":"Transfer Entropy","recall":0.9329,"precision":0.925},
{"method":"Transfer Entropy","recall":0.9338,"precision":0.933},
{"method":"Transfer Entropy","recall":0.949,"precision":0.933},
{"method":"Transfer Entropy","recall":0.9508,"precision":0.941},
{"method":"Transfer Entropy","recall":0.9544,"precision":0.947},
{"method":"Transfer Entropy","recall":0.958,"precision":0.954},
{"method":"Transfer Entropy","recall":0.9723,"precision":0.954},
{"method":"Transfer Entropy","recall":0.9741,"precision":0.959},
{"method":"Transfer Entropy","recall":0.9973,"precision":0.959},
{"method":"Transfer Entropy","recall":0.9991,"precision":0.981},
{"method":"Transfer Entropy","recall":1.0,"precision":1.0},
{"method":"Convergent Cross Maps","recall":0,"precision":0},
{"method":"Convergent Cross Maps","recall":0.0001,"precision":0.010},
{"method":"Convergent Cross Maps","recall":0.0027,"precision":0.033},
{"method":"Convergent Cross Maps","recall":0.0054,"precision":0.070},
{"method":"Convergent Cross Maps","recall":0.0089,"precision":0.093},
{"method":"Convergent Cross Maps","recall":0.0134,"precision":0.101},
{"method":"Convergent Cross Maps","recall":0.0161,"precision":0.131},
{"method":"Convergent Cross Maps","recall":0.0206,"precision":0.161},
{"method":"Convergent Cross Maps","recall":0.0233,"precision":0.180},
{"method":"Convergent Cross Maps","recall":0.0268,"precision":0.206},
{"method":"Convergent Cross Maps","recall":0.0277,"precision":0.240},
{"method":"Convergent Cross Maps","recall":0.0313,"precision":0.251},
{"method":"Convergent Cross Maps","recall":0.034,"precision":0.271},
{"method":"Convergent Cross Maps","recall":0.0358,"precision":0.282},
{"method":"Convergent Cross Maps","recall":0.0429,"precision":0.282},
{"method":"Convergent Cross Maps","recall":0.0438,"precision":0.302},
{"method":"Convergent Cross Maps","recall":0.0474,"precision":0.308},
{"method":"Convergent Cross Maps","recall":0.0492,"precision":0.335},
{"method":"Convergent Cross Maps","recall":0.0537,"precision":0.350},
{"method":"Convergent Cross Maps","recall":0.0564,"precision":0.365},
{"method":"Convergent Cross Maps","recall":0.0608,"precision":0.373},
{"method":"Convergent Cross Maps","recall":0.0635,"precision":0.399},
{"method":"Convergent Cross Maps","recall":0.0653,"precision":0.410},
{"method":"Convergent Cross Maps","recall":0.0707,"precision":0.410},
{"method":"Convergent Cross Maps","recall":0.0716,"precision":0.418},
{"method":"Convergent Cross Maps","recall":0.0742,"precision":0.429},
{"method":"Convergent Cross Maps","recall":0.085,"precision":0.437},
{"method":"Convergent Cross Maps","recall":0.0948,"precision":0.448},
{"method":"Convergent Cross Maps","recall":0.0966,"precision":0.455},
{"method":"Convergent Cross Maps","recall":0.1055,"precision":0.455},
{"method":"Convergent Cross Maps","recall":0.1073,"precision":0.469},
{"method":"Convergent Cross Maps","recall":0.1172,"precision":0.469},
{"method":"Convergent Cross Maps","recall":0.1181,"precision":0.477},
{"method":"Convergent Cross Maps","recall":0.1216,"precision":0.482},
{"method":"Convergent Cross Maps","recall":0.1306,"precision":0.494},
{"method":"Convergent Cross Maps","recall":0.1324,"precision":0.504},
{"method":"Convergent Cross Maps","recall":0.1494,"precision":0.504},
{"method":"Convergent Cross Maps","recall":0.1512,"precision":0.537},
{"method":"Convergent Cross Maps","recall":0.1619,"precision":0.539},
{"method":"Convergent Cross Maps","recall":0.1646,"precision":0.550},
{"method":"Convergent Cross Maps","recall":0.1726,"precision":0.550},
{"method":"Convergent Cross Maps","recall":0.1744,"precision":0.557},
{"method":"Convergent Cross Maps","recall":0.1789,"precision":0.563},
{"method":"Convergent Cross Maps","recall":0.1869,"precision":0.571},
{"method":"Convergent Cross Maps","recall":0.1968,"precision":0.571},
{"method":"Convergent Cross Maps","recall":0.1986,"precision":0.591},
{"method":"Convergent Cross Maps","recall":0.2066,"precision":0.597},
{"method":"Convergent Cross Maps","recall":0.2084,"precision":0.612},
{"method":"Convergent Cross Maps","recall":0.2254,"precision":0.618},
{"method":"Convergent Cross Maps","recall":0.2415,"precision":0.618},
{"method":"Convergent Cross Maps","recall":0.2433,"precision":0.636},
{"method":"Convergent Cross Maps","recall":0.2496,"precision":0.644},
{"method":"Convergent Cross Maps","recall":0.2549,"precision":0.658},
{"method":"Convergent Cross Maps","recall":0.2603,"precision":0.665},
{"method":"Convergent Cross Maps","recall":0.2648,"precision":0.670},
{"method":"Convergent Cross Maps","recall":0.2692,"precision":0.678},
{"method":"Convergent Cross Maps","recall":0.2782,"precision":0.685},
{"method":"Convergent Cross Maps","recall":0.3068,"precision":0.685},
{"method":"Convergent Cross Maps","recall":0.3069,"precision":0.692},
{"method":"Convergent Cross Maps","recall":0.322,"precision":0.699},
{"method":"Convergent Cross Maps","recall":0.331,"precision":0.712},
{"method":"Convergent Cross Maps","recall":0.3336,"precision":0.719},
{"method":"Convergent Cross Maps","recall":0.3417,"precision":0.726},
{"method":"Convergent Cross Maps","recall":0.3533,"precision":0.732},
{"method":"Convergent Cross Maps","recall":0.3587,"precision":0.738},
{"method":"Convergent Cross Maps","recall":0.3649,"precision":0.746},
{"method":"Convergent Cross Maps","recall":0.3667,"precision":0.752},
{"method":"Convergent Cross Maps","recall":0.3945,"precision":0.752},
{"method":"Convergent Cross Maps","recall":0.3989,"precision":0.766},
{"method":"Convergent Cross Maps","recall":0.4114,"precision":0.772},
{"method":"Convergent Cross Maps","recall":0.4141,"precision":0.780},
{"method":"Convergent Cross Maps","recall":0.4213,"precision":0.786},
{"method":"Convergent Cross Maps","recall":0.4249,"precision":0.793},
{"method":"Convergent Cross Maps","recall":0.4428,"precision":0.800},
{"method":"Convergent Cross Maps","recall":0.4508,"precision":0.806},
{"method":"Convergent Cross Maps","recall":0.4678,"precision":0.812},
{"method":"Convergent Cross Maps","recall":0.474,"precision":0.819},
{"method":"Convergent Cross Maps","recall":0.4794,"precision":0.832},
{"method":"Convergent Cross Maps","recall":0.5009,"precision":0.839},
{"method":"Convergent Cross Maps","recall":0.5081,"precision":0.846},
{"method":"Convergent Cross Maps","recall":0.5206,"precision":0.853},
{"method":"Convergent Cross Maps","recall":0.5242,"precision":0.860},
{"method":"Convergent Cross Maps","recall":0.5331,"precision":0.866},
{"method":"Convergent Cross Maps","recall":0.5474,"precision":0.873},
{"method":"Convergent Cross Maps","recall":0.5814,"precision":0.880},
{"method":"Convergent Cross Maps","recall":0.5975,"precision":0.887},
{"method":"Convergent Cross Maps","recall":0.6064,"precision":0.894},
{"method":"Convergent Cross Maps","recall":0.6145,"precision":0.899},
{"method":"Convergent Cross Maps","recall":0.6225,"precision":0.907},
{"method":"Convergent Cross Maps","recall":0.6288,"precision":0.913},
{"method":"Convergent Cross Maps","recall":0.636,"precision":0.925},
{"method":"Convergent Cross Maps","recall":0.6449,"precision":0.932},
{"method":"Convergent Cross Maps","recall":0.6789,"precision":0.940},
{"method":"Convergent Cross Maps","recall":0.6887,"precision":0.947},
{"method":"Convergent Cross Maps","recall":0.7182,"precision":0.954},
{"method":"Convergent Cross Maps","recall":0.7773,"precision":0.959},
{"method":"Convergent Cross Maps","recall":0.822,"precision":0.966},
{"method":"Convergent Cross Maps","recall":0.8497,"precision":0.974},
{"method":"Convergent Cross Maps","recall":0.8605,"precision":0.981},
{"method":"Convergent Cross Maps","recall":0.8927,"precision":0.988},
{"method":"Convergent Cross Maps","recall":0.9401,"precision":0.993},
{"method":"Convergent Cross Maps","recall":0.9633,"precision":1.0},
{"method":"Convergent Cross Maps","recall":1.0,"precision":1.0}
]
},
"layer": [
{
"data": {"name": "roc"},
"mark": {"type": "line", "interpolate": "step-after", "strokeWidth": 1.5},
"encoding": {
"x": {"field": "recall", "type": "quantitative",
 "scale": {"domain": [0, 1], "nice": false, "zero": false},
 "axis": {"title": "Recall", "values": [0,0.1,0.2,0.3,0.4,0.5,0.6,0.7,0.8,0.9,1], "format": ".1~f", "grid": false,
  "tickSize": -11, "labelPadding": 24, "labelFlush": false, "labelOverlap": false,
  "domainColor": "#333333", "domainWidth": 2, "tickColor": "#333333", "tickWidth": 2,
  "labelFont": "DejaVu Sans", "labelFontSize": 22, "labelColor": "#262626",
  "titleFont": "DejaVu Sans", "titleFontSize": 22, "titleFontWeight": "normal", "titleColor": "#262626", "titlePadding": 12}},
"y": {"field": "precision", "type": "quantitative",
 "scale": {"domain": [0, 1], "nice": false, "zero": false},
 "axis": {"title": "Precision", "values": [0,0.1,0.2,0.3,0.4,0.5,0.6,0.7,0.8,0.9,1], "format": ".1~f", "grid": false,
  "tickSize": -11, "labelPadding": 20, "labelFlush": false, "labelOverlap": false,
  "domainColor": "#333333", "domainWidth": 2, "tickColor": "#333333", "tickWidth": 2,
  "labelFont": "DejaVu Sans", "labelFontSize": 22, "labelColor": "#262626",
  "titleFont": "DejaVu Sans", "titleFontSize": 22, "titleFontWeight": "normal", "titleColor": "#262626", "titlePadding": 17}},
"color": {"field": "method", "type": "nominal",
 "scale": {"domain": ["Correlation", "Granger Causality", "Mutual Information", "Transfer Entropy", "Convergent Cross Maps"],
  "range": ["#111111", "#f7f72e", "#d8232a", "#34d834", "#1c1cc4"]},
 "legend": {"title": null, "orient": "none", "legendX": 722, "legendY": 712, "direction": "vertical",
  "strokeColor": "#000000", "fillColor": "#ffffff", "padding": 7,
  "symbolType": "M-0.3,0H7.7", "symbolSize": 361, "symbolStrokeWidth": 1.5,
  "labelFont": "DejaVu Sans", "labelFontSize": 22, "labelColor": "#000000", "labelOffset": 68, "labelLimit": 400,
  "labelExpr": "datum.label == 'Convergent Cross Maps' ? '\u00a0' + datum.label : datum.label",
  "rowPadding": 6}},
"order": {"value": null}
}
},
{
"data": {"values": [{}]},
"mark": {"type": "text", "font": "Liberation Serif", "fontSize": 66, "align": "right", "baseline": "alphabetic", "color": "#111111"},
"encoding": {"x": {"datum": -0.0045, "type": "quantitative"}, "y": {"datum": 0.908, "type": "quantitative"}, "text": {"value": "SIM"}}
},
{
"data": {"values": [{}]},
"mark": {"type": "text", "font": "Liberation Serif", "fontSize": 66, "align": "right", "baseline": "alphabetic", "color": "#111111"},
"encoding": {"x": {"datum": -0.048, "type": "quantitative"}, "y": {"datum": 0.811, "type": "quantitative"}, "text": {"value": "s)"}}
},
{
"data": {"values": [{}]},
"mark": {"type": "text", "font": "DejaVu Sans", "fontSize": 34, "fontWeight": "bold", "align": "center", "baseline": "alphabetic", "color": "#404040"},
"encoding": {"x": {"datum": 0.99, "type": "quantitative"}, "y": {"datum": -0.05, "type": "quantitative"}, "text": {"value": "9"}}
}
]
}
